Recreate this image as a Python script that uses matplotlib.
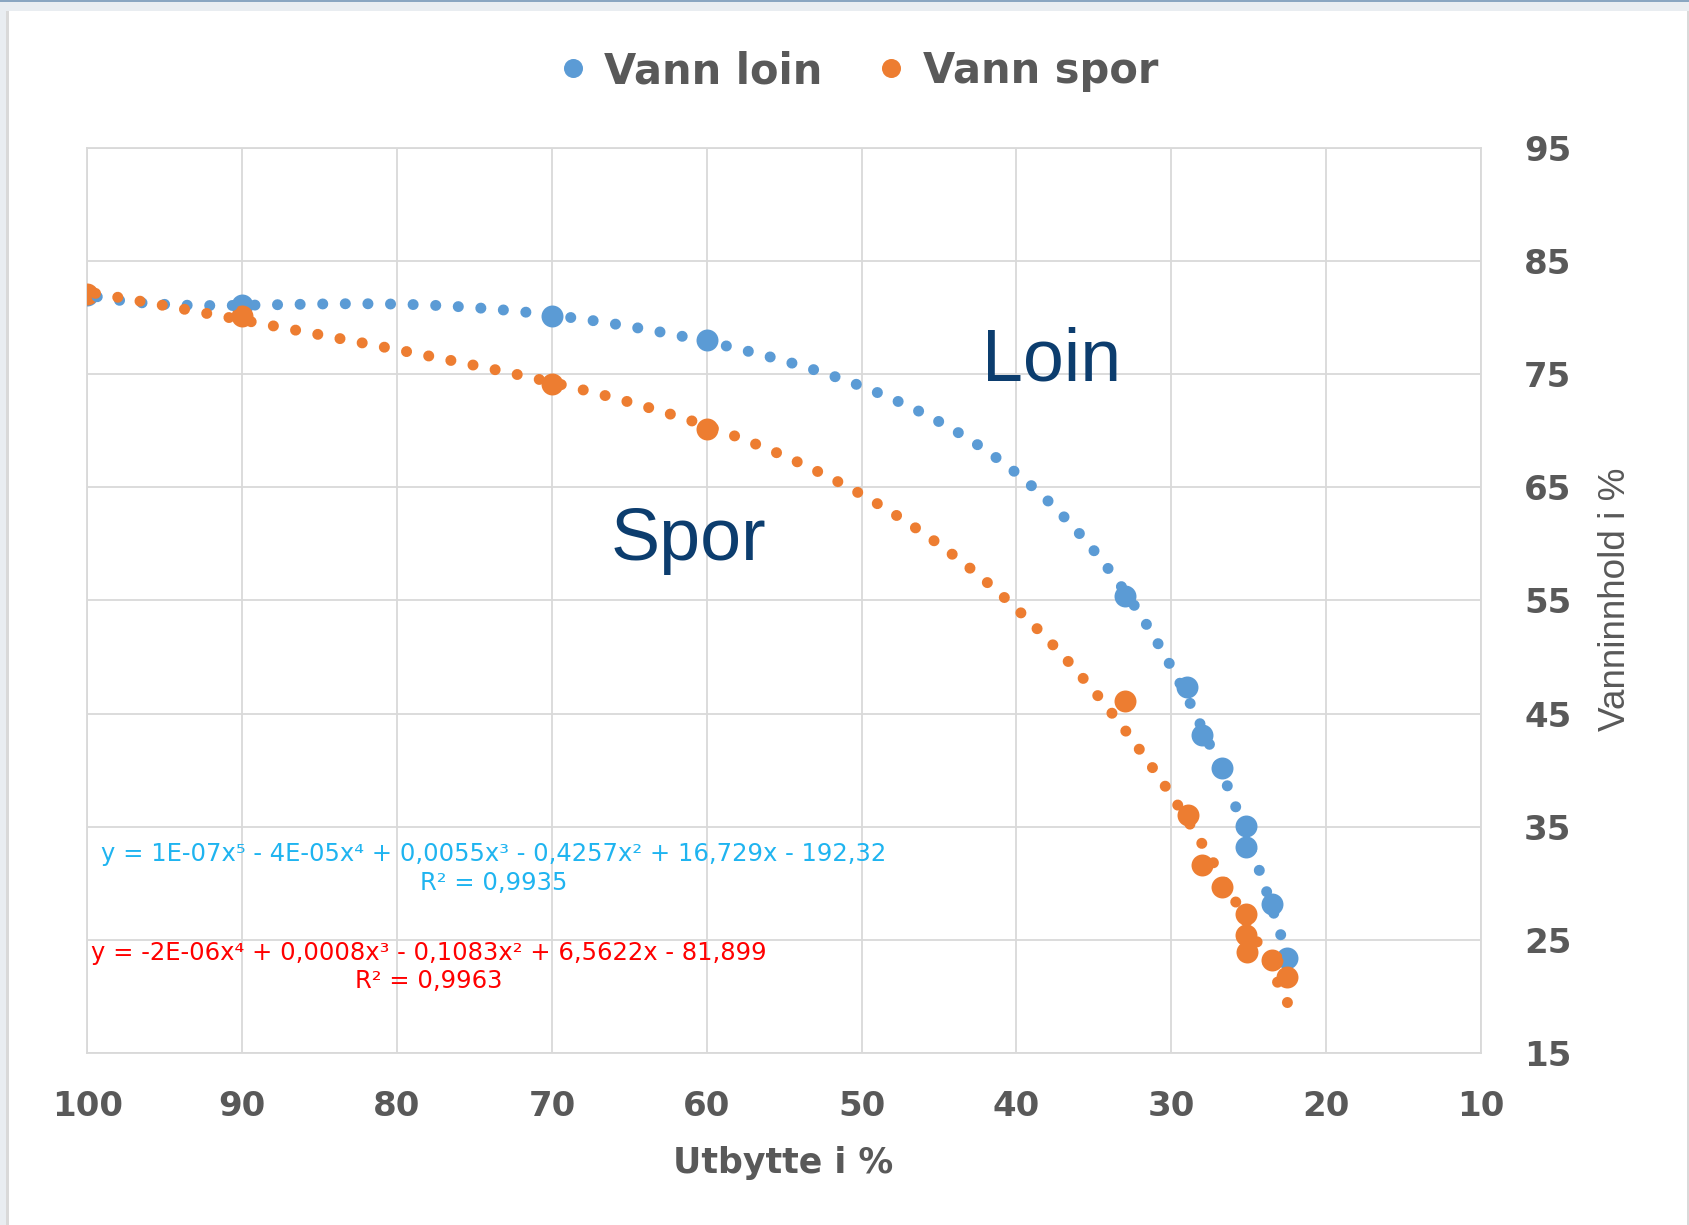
import numpy as np
import matplotlib.pyplot as plt
from matplotlib.lines import Line2D
from matplotlib.patches import Rectangle
from matplotlib import font_manager

# data lest av fra figuren
loin_x = [100, 90, 70, 60, 33.0, 29.0, 28.0, 26.7, 25.2, 25.2, 23.5, 22.5]
loin_y = [82.0, 81.1, 80.1, 78.0, 55.4, 47.3, 43.1, 40.2, 35.1, 33.2, 28.2, 23.4]
spor_x = [100, 90, 70, 60, 33.0, 28.9, 28.0, 26.7, 25.2, 25.2, 25.1, 23.5, 22.5]
spor_y = [82.1, 80.1, 74.1, 70.1, 46.1, 36.0, 31.6, 29.7, 27.3, 25.4, 23.9, 23.2, 21.7]

x_ticks = [100, 90, 80, 70, 60, 50, 40, 30, 20, 10]
y_ticks = [15, 25, 35, 45, 55, 65, 75, 85, 95]

loin_eq = "y = 1E-07x⁵ - 4E-05x⁴ + 0,0055x³ - 0,4257x² + 16,729x - 192,32\nR² = 0,9935"
spor_eq = "y = -2E-06x⁴ + 0,0008x³ - 0,1083x² + 6,5622x - 81,899\nR² = 0,9963"

BLUE = "#5b9bd5"
ORANGE = "#ed7d31"
GREY = "#595959"
NAVY = "#0c3d6e"

names = {f.name for f in font_manager.fontManager.ttflist}
narrow = "Liberation Sans Narrow" if "Liberation Sans Narrow" in names else "Liberation Sans"

fig = plt.figure(figsize=(16.9, 12.25), dpi=100)
fig.patch.set_facecolor("white")

# ramme rundt diagrammet
fig.add_artist(Rectangle((0, 1 - 11 / 1225), 1, 11 / 1225, transform=fig.transFigure,
                         facecolor="#e9edf1", edgecolor="none"))
fig.add_artist(Rectangle((0, 1 - 2 / 1225), 1, 2 / 1225, transform=fig.transFigure,
                         facecolor="#8aa6c1", edgecolor="none"))
fig.add_artist(Rectangle((0, 0), 6 / 1690, 1 - 11 / 1225, transform=fig.transFigure,
                         facecolor="#e9edf1", edgecolor="none"))
fig.add_artist(Rectangle((6 / 1690, 0), 2.5 / 1690, 1 - 11 / 1225, transform=fig.transFigure,
                         facecolor="#d9d9d9", edgecolor="none"))
fig.add_artist(Rectangle((1 - 3 / 1690, 0), 2 / 1690, 1 - 11 / 1225, transform=fig.transFigure,
                         facecolor="#d9d9d9", edgecolor="none"))

ax = fig.add_axes([0.05166, 0.14041, 0.82468, 0.73902])

ax.scatter(loin_x, loin_y, s=250, color=BLUE, linewidths=0, zorder=3)
ax.scatter(spor_x, spor_y, s=250, color=ORANGE, linewidths=0, zorder=3)

# polynomiske trendlinjer (grad 5 og 4)
xs = np.linspace(min(loin_x), max(loin_x), 400)
ax.plot(xs, np.polyval(np.polyfit(loin_x, loin_y, 5), xs), color=BLUE, lw=7.9,
        linestyle=(0, (0.01, 2.05)), dash_capstyle="round", zorder=4)
xs = np.linspace(min(spor_x), max(spor_x), 400)
ax.plot(xs, np.polyval(np.polyfit(spor_x, spor_y, 4), xs), color=ORANGE, lw=7.9,
        linestyle=(0, (0.01, 2.05)), dash_capstyle="round", zorder=4)

ax.set_xlim(100, 10)
ax.set_ylim(15, 95)
ax.set_xticks(x_ticks)
ax.set_yticks(y_ticks)
ax.grid(True, color="#d9d9d9", lw=1.3, zorder=0)
ax.set_axisbelow(True)
for sp in ax.spines.values():
    sp.set_color("#d9d9d9")
    sp.set_linewidth(1.3)
ax.yaxis.tick_right()
ax.tick_params(axis="both", length=0, labelcolor=GREY, labelsize=24.5)
ax.tick_params(axis="x", pad=27)
ax.tick_params(axis="y", pad=31)
for lab in ax.get_xticklabels() + ax.get_yticklabels():
    lab.set_fontweight("bold")

ax.text(42.2, 74.4, "Loin", fontsize=53, color=NAVY, family="Liberation Sans",
        ha="left", va="baseline")
ax.text(66.2, 58.6, "Spor", fontsize=53, color=NAVY, family="Liberation Sans",
        ha="left", va="baseline")

ax.text(73.74, 31.3, loin_eq, fontsize=17.5, color="#1fb4f0", ha="center", va="center",
        multialignment="center", linespacing=1.25)
ax.text(77.94, 22.6, spor_eq, fontsize=17.5, color="#ff0000", ha="center", va="center",
        multialignment="center", linespacing=1.25)

fig.text(783.6 / 1690, 1 - 1163 / 1225, "Utbytte i %", fontsize=25, fontweight="bold",
         color=GREY, ha="center", va="center")
ylab = fig.text(1616 / 1690, 1 - 599 / 1225, "Vanninnhold i %", fontsize=32, family=narrow,
                color=GREY, rotation=90, ha="center", va="center")
# tilpass lengden paa aksetittelen (ca. 264 px)
r = fig.canvas.get_renderer()
h = ylab.get_window_extent(r).height
ylab.set_fontsize(32 * 264 / h)

handles = [Line2D([], [], ls="none", marker="o", markersize=13.7, color=BLUE, markeredgewidth=0),
           Line2D([], [], ls="none", marker="o", markersize=13.7, color=ORANGE, markeredgewidth=0)]
leg = fig.legend(handles, ["Vann loin", "Vann spor"], loc="center", ncol=2, frameon=False,
                 bbox_to_anchor=(0.509, 0.942), handlelength=0.5, handletextpad=0.5,
                 columnspacing=1.4, prop={"size": 30, "weight": "bold"})
for t in leg.get_texts():
    t.set_color(GREY)

fig.savefig("out.png", dpi=100)
